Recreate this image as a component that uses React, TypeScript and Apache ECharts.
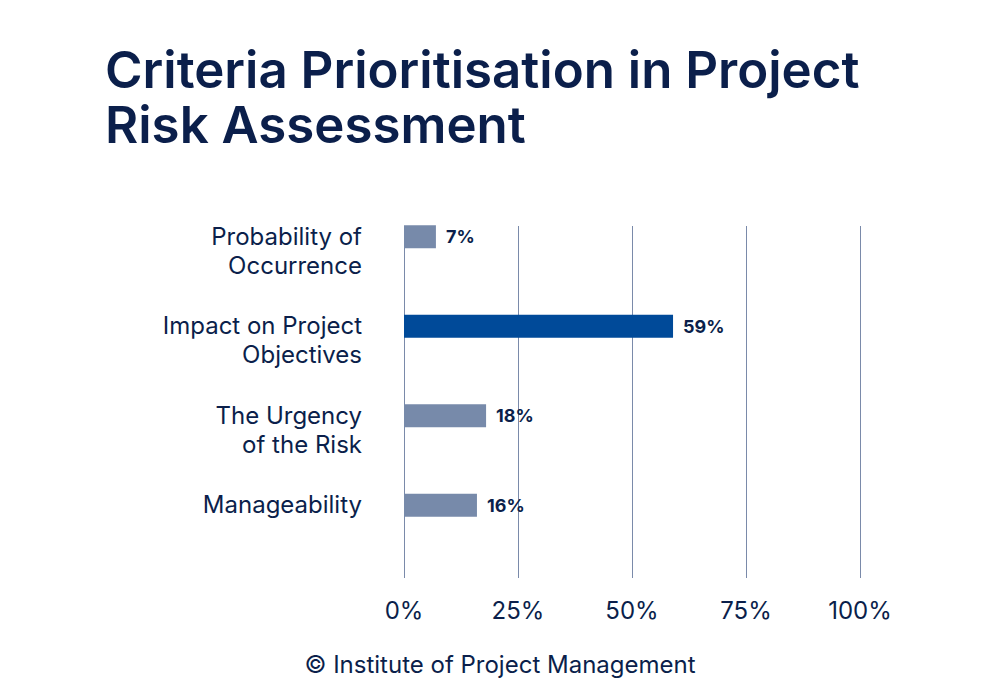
import React, { useEffect, useRef } from "react";
import * as echarts from "echarts";

const titleLines = ["Criteria Prioritisation in Project", "Risk Assessment"];
const footerText = "© Institute of Project Management";
const categories = [
  "Probability of\nOccurrence",
  "Impact on Project\nObjectives",
  "The Urgency\nof the Risk",
  "Manageability",
];
const values = [7, 59, 18, 16];
const highlightIndex = 1;

const NAVY = "#0b1f4b";
const BAR_GREY = "#778aaa";
const BAR_BLUE = "#004a99";
const GRID_LINE = "#7a8aaa";
const FONT = "Inter";

export default function App() {
  const ref = useRef<HTMLDivElement>(null);
  useEffect(() => {
    if (!ref.current) return;
    const chart = echarts.init(ref.current, undefined, { renderer: "svg" });
    const common = { left: 404, right: 140 };
    const titleStyle = {
      fontFamily: FONT,
      fontSize: 51,
      fontWeight: 600,
      lineHeight: 54,
      color: NAVY,
    };
    chart.setOption({
      animation: false,
      backgroundColor: "#ffffff",
      title: [
        { text: titleLines[0], left: 100, top: 37, textStyle: titleStyle },
        { text: titleLines[1], left: 100, top: 92, textStyle: titleStyle },
        {
          text: footerText,
          left: "center",
          top: 644,
          textStyle: {
            fontFamily: FONT,
            fontSize: 24,
            fontWeight: 400,
            lineHeight: 30,
            color: NAVY,
          },
        },
      ],
      grid: [
        { ...common, top: 226, height: 352 },
        { ...common, top: 192, height: 358 },
        { ...common, top: 177, height: 358 },
      ],
      xAxis: [
        {
          gridIndex: 0,
          type: "value",
          min: 0,
          max: 100,
          interval: 25,
          axisLine: { show: false },
          axisTick: { show: false },
          splitLine: { show: true, lineStyle: { color: GRID_LINE, width: 1 } },
          axisLabel: {
            formatter: "{value}%",
            fontFamily: FONT,
            fontSize: 24,
            color: NAVY,
            margin: 20,
          },
        },
        { gridIndex: 1, type: "value", min: 0, max: 100, show: false },
        { gridIndex: 2, type: "value", min: 0, max: 100, show: false },
      ],
      yAxis: [
        { gridIndex: 0, type: "category", data: categories, show: false },
        {
          gridIndex: 1,
          type: "category",
          data: categories,
          inverse: true,
          axisLine: { show: false },
          axisTick: { show: false },
          axisLabel: { show: false },
        },
        {
          gridIndex: 2,
          type: "category",
          data: categories,
          inverse: true,
          axisLine: { show: false },
          axisTick: { show: false },
          axisLabel: {
            show: true,
            fontFamily: FONT,
            fontSize: 24,
            lineHeight: 29,
            color: NAVY,
            align: "right",
            verticalAlign: "top",
            margin: 42,
          },
        },
      ],
      series: [
        {
          type: "bar",
          xAxisIndex: 1,
          yAxisIndex: 1,
          barWidth: 23,
          data: values.map((v, i) => ({
            value: v,
            itemStyle: { color: i === highlightIndex ? BAR_BLUE : BAR_GREY },
          })),
          label: {
            show: true,
            position: "right",
            distance: 10,
            formatter: "{c}%",
            fontFamily: FONT,
            fontSize: 18,
            fontWeight: 700,
            color: NAVY,
          },
        },
      ],
    });
    return () => chart.dispose();
  }, []);
  return (
    <div
      ref={ref}
      style={{ position: "fixed", left: 0, top: 0, width: 1000, height: 700 }}
    />
  );
}
